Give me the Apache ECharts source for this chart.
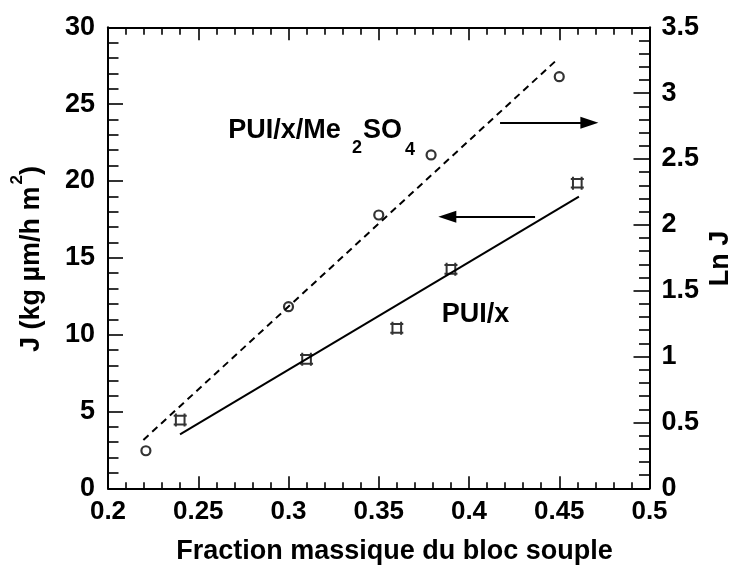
<!DOCTYPE html>
<html><head><meta charset="utf-8">
<script src="https://cdn.jsdelivr.net/npm/echarts@6/dist/echarts.min.js"></script>
<style>html,body{margin:0;padding:0;background:#fff}#c{width:732px;height:566px}</style>
</head><body><div id="c"></div>
<script>
// ---- data ----
const xCircles = [0.221, 0.300, 0.350, 0.379, 0.450];   // PUI/x/Me2SO4 (right axis, Ln J)
const lnJ      = [0.285, 1.379, 2.075, 2.531, 3.125];
const xSquares = [0.240, 0.310, 0.360, 0.390, 0.460];   // PUI/x (left axis, J)
const fluxJ    = [4.44, 8.39, 10.41, 14.25, 19.85];
const fitLnX = [0.2196, 0.4482];   // dashed fit line (Ln J)
const fitLnY = [0.367, 3.247];
const fitJX  = [0.2399, 0.4609];   // solid fit line (J)
const fitJY  = [3.51, 18.98];
const arrowRightX = [0.4172, 0.4667]; const arrowRightY = 2.776;  // right axis units
const arrowLeftX  = [0.4366, 0.3880]; const arrowLeftY  = 17.67;  // left axis units
const xRange = [0.2, 0.5, 0.05];
const jRange = [0, 30, 5];
const lnRange = [0, 3.5, 0.5];

const FONT = '"Liberation Sans", Arial, Helvetica, sans-serif';
const BLACK = '#000';

function pairs(xs, ys) { return xs.map((x, i) => [x, ys[i]]); }

const tickLine = { color: BLACK, width: 1.6 };
const axisLine = { show: true, onZero: false, lineStyle: { color: BLACK, width: 2 } };
const labelStyle = { color: BLACK, fontFamily: FONT, fontWeight: 'bold', fontSize: 27 };

const squareSym = 'path://M0,2 L12,2 M2,0 L2,12 M10,0 L10,12 M0,10 L12,10';

function txt(x, y, text, size, align, extra) {
  return Object.assign({ type: 'text', x: x, y: y, silent: true,
    style: { text: text, fill: BLACK, fontFamily: FONT, fontWeight: 'bold', fontSize: size,
      align: align || 'left', verticalAlign: 'middle' } }, extra || {});
}

const chart = echarts.init(document.getElementById('c'), null, { renderer: 'canvas' });
chart.setOption({
  backgroundColor: '#fff',
  animation: false,
  grid: { left: 108, right: 82.5, top: 27.3, bottom: 77.7, containLabel: false },
  xAxis: [
    { type: 'value', position: 'bottom', min: xRange[0], max: xRange[1], interval: xRange[2],
      axisLine: axisLine,
      axisTick: { show: true, inside: true, length: 12, lineStyle: tickLine },
      minorTick: { show: true, splitNumber: 5, length: 6, lineStyle: tickLine },
      axisLabel: Object.assign({ margin: 11 }, labelStyle, { fontSize: 26 }),
      splitLine: { show: false } },
    { type: 'value', position: 'top', min: xRange[0], max: xRange[1], interval: xRange[2],
      axisLine: axisLine,
      axisTick: { show: true, inside: true, length: 13, lineStyle: tickLine },
      minorTick: { show: true, splitNumber: 5, length: 7.5, lineStyle: tickLine },
      axisLabel: { show: false },
      splitLine: { show: false } }
  ],
  yAxis: [
    { type: 'value', position: 'left', min: jRange[0], max: jRange[1], interval: jRange[2],
      axisLine: axisLine,
      axisTick: { show: true, inside: true, length: 15, lineStyle: tickLine },
      minorTick: { show: true, splitNumber: 5, length: 10.5, lineStyle: tickLine },
      axisLabel: Object.assign({ margin: 13 }, labelStyle),
      splitLine: { show: false } },
    { type: 'value', position: 'right', min: lnRange[0], max: lnRange[1], interval: lnRange[2],
      axisLine: axisLine,
      axisTick: { show: true, inside: true, length: 16, lineStyle: tickLine },
      minorTick: { show: true, splitNumber: 5, length: 10.5, lineStyle: tickLine },
      axisLabel: Object.assign({ margin: 12 }, labelStyle),
      splitLine: { show: false } }
  ],
  series: [
    { name: 'fitLn', type: 'line', xAxisIndex: 0, yAxisIndex: 1, data: pairs(fitLnX, fitLnY),
      showSymbol: false, symbol: 'none', silent: true,
      lineStyle: { color: BLACK, width: 2, type: [7, 5] },
      markLine: { silent: true, symbol: ['none', 'triangle'], symbolSize: [12, 18],
        label: { show: false }, lineStyle: { color: BLACK, width: 1.8, type: 'solid' },
        data: [[{ coord: [arrowRightX[0], arrowRightY] }, { coord: [arrowRightX[1], arrowRightY] }]] } },
    { name: 'fitJ', type: 'line', xAxisIndex: 0, yAxisIndex: 0, data: pairs(fitJX, fitJY),
      showSymbol: false, symbol: 'none', silent: true,
      lineStyle: { color: BLACK, width: 2, type: 'solid' },
      markLine: { silent: true, symbol: ['none', 'triangle'], symbolSize: [12, 18],
        label: { show: false }, lineStyle: { color: BLACK, width: 1.8, type: 'solid' },
        data: [[{ coord: [arrowLeftX[0], arrowLeftY] }, { coord: [arrowLeftX[1], arrowLeftY] }]] } },
    { name: 'PUI/x/Me2SO4', type: 'scatter', xAxisIndex: 0, yAxisIndex: 1, data: pairs(xCircles, lnJ),
      symbol: 'circle', symbolSize: 9,
      itemStyle: { color: '#fff', borderColor: BLACK, borderWidth: 2.2 } },
    { name: 'PUI/x', type: 'scatter', xAxisIndex: 0, yAxisIndex: 0, data: pairs(xSquares, fluxJ),
      symbol: squareSym, symbolSize: 13,
      itemStyle: { color: 'rgba(0,0,0,0)', borderColor: BLACK, borderWidth: 2 } }
  ],
  graphic: [
    txt(228.3, 130.8, 'PUI/x/Me', 27),
    txt(352, 148.3, '2', 18),
    txt(363, 130.8, 'SO', 27),
    txt(405, 150.5, '4', 18),
    txt(441.7, 315, 'PUI/x', 27),
    txt(394.5, 551.2, 'Fraction massique du bloc souple', 27, 'center'),
    { type: 'text', x: 31.7, y: 259, rotation: Math.PI / 2, silent: true,
      style: { text: 'J (kg µm/h m{sup|2})', fill: BLACK, fontFamily: FONT, fontWeight: 'bold', fontSize: 27,
        align: 'center', verticalAlign: 'middle',
        rich: {
          sup: { fontFamily: FONT, fontWeight: 'bold', fontSize: 17, padding: [0, 0, 29, 2], verticalAlign: 'top', fill: BLACK }
        } } },
    { type: 'text', x: 720.5, y: 258.5, rotation: Math.PI / 2, silent: true,
      style: { text: 'Ln J', fill: BLACK, fontFamily: FONT, fontWeight: 'bold', fontSize: 27,
        align: 'center', verticalAlign: 'middle' } }
  ]
});
</script>
</body></html>
